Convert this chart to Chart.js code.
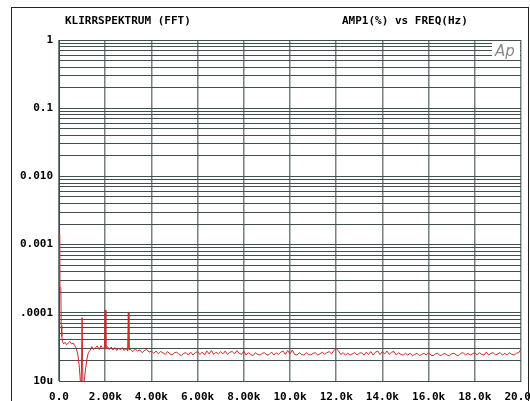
<!DOCTYPE html>
<html>
<head>
<meta charset="utf-8">
<script src="https://cdn.jsdelivr.net/npm/chart.js@4"></script>
<style>
  html, body { margin: 0; padding: 0; background: #fff; }
  #wrap { width: 530px; height: 401px; }
</style>
</head>
<body>
<div id="wrap"><canvas id="fftChart" width="530" height="401"></canvas></div>
<script>
// frequency (Hz) and amplitude (%)
const freqHz = [
    15, 30, 80, 95, 120, 150, 200, 260, 330, 400, 470, 540, 610, 680, 750, 820, 880, 930, 960,
    1000, 1040, 1090, 1150, 1210, 1270, 1340, 1420, 1500, 1580, 1660, 1740, 1820, 1900, 1970,
    2000, 2030, 2100, 2180, 2260, 2340, 2420, 2500, 2580, 2660, 2740, 2820, 2900, 2970,
    3000, 3030,
    3100, 3200, 3300, 3400, 3500, 3600, 3700, 3800, 3900, 4000,
    4100, 4200, 4300, 4400, 4500, 4600, 4700, 4800, 4900, 5000,
    5100, 5200, 5300, 5400, 5500, 5600, 5700, 5800, 5900, 6000,
    6100, 6200, 6300, 6400, 6500, 6600, 6700, 6800, 6900, 7000,
    7100, 7200, 7300, 7400, 7500, 7600, 7700, 7800, 7900, 8000,
    8100, 8200, 8300, 8400, 8500, 8600, 8700, 8800, 8900, 9000,
    9100, 9200, 9300, 9400, 9500, 9600, 9700, 9800, 9900, 10000,
    10100, 10200, 10300, 10400, 10500, 10600, 10700, 10800, 10900, 11000,
    11100, 11200, 11300, 11400, 11500, 11600, 11700, 11800, 11900, 12000,
    12100, 12200, 12300, 12400, 12500, 12600, 12700, 12800, 12900, 13000,
    13100, 13200, 13300, 13400, 13500, 13600, 13700, 13800, 13900, 14000,
    14100, 14200, 14300, 14400, 14500, 14600, 14700, 14800, 14900, 15000,
    15100, 15200, 15300, 15400, 15500, 15600, 15700, 15800, 15900, 16000,
    16100, 16200, 16300, 16400, 16500, 16600, 16700, 16800, 16900, 17000,
    17100, 17200, 17300, 17400, 17500, 17600, 17700, 17800, 17900, 18000,
    18100, 18200, 18300, 18400, 18500, 18600, 18700, 18800, 18900, 19000,
    19100, 19200, 19300, 19400, 19500, 19600, 19700, 19800, 19900, 20000
];
const ampPct = [
    1.4e-3, 2.4e-4, 2.3e-4, 6.5e-5, 4.5e-5, 3.8e-5, 3.5e-5, 3.7e-5, 3.4e-5, 3.6e-5, 3.8e-5, 3.5e-5, 3.6e-5, 3.3e-5, 3.0e-5, 2.4e-5, 1.6e-5, 9.5e-6, 7e-6,
    8.5e-5, 7e-6, 1.0e-5, 1.5e-5, 2.1e-5, 2.6e-5, 2.8e-5, 3.2e-5, 2.9e-5, 3.1e-5, 3.25e-5, 2.9e-5, 3.3e-5, 2.95e-5, 3.15e-5,
    1.1e-4, 2.95e-5, 3.2e-5, 2.9e-5, 3.15e-5, 2.85e-5, 3.1e-5, 2.8e-5, 3.05e-5, 2.85e-5, 3.1e-5, 2.8e-5, 3.0e-5, 2.75e-5,
    1.0e-4, 2.9e-5,
    2.9e-5, 2.7e-5, 2.95e-5, 2.75e-5, 2.85e-5, 2.6e-5, 2.8e-5, 2.9e-5, 2.65e-5, 2.75e-5,
    2.55e-5, 2.75e-5, 2.5e-5, 2.7e-5, 2.6e-5, 2.45e-5, 2.7e-5, 2.5e-5, 2.4e-5, 2.6e-5,
    2.65e-5, 2.45e-5, 2.35e-5, 2.55e-5, 2.6e-5, 2.4e-5, 2.65e-5, 2.4e-5, 2.6e-5, 2.7e-5,
    2.45e-5, 2.65e-5, 2.4e-5, 2.75e-5, 2.5e-5, 2.8e-5, 2.45e-5, 2.65e-5, 2.5e-5, 2.7e-5,
    2.5e-5, 2.75e-5, 2.45e-5, 2.65e-5, 2.7e-5, 2.5e-5, 2.8e-5, 2.55e-5, 2.45e-5, 2.75e-5,
    2.4e-5, 2.6e-5, 2.45e-5, 2.35e-5, 2.6e-5, 2.45e-5, 2.4e-5, 2.55e-5, 2.6e-5, 2.4e-5,
    2.45e-5, 2.65e-5, 2.4e-5, 2.6e-5, 2.45e-5, 2.65e-5, 2.75e-5, 2.45e-5, 2.8e-5, 2.5e-5,
    2.85e-5, 2.45e-5, 2.4e-5, 2.6e-5, 2.45e-5, 2.4e-5, 2.6e-5, 2.45e-5, 2.4e-5, 2.55e-5,
    2.6e-5, 2.4e-5, 2.5e-5, 2.65e-5, 2.45e-5, 2.6e-5, 2.7e-5, 2.5e-5, 2.8e-5, 3.0e-5,
    2.75e-5, 2.45e-5, 2.6e-5, 2.4e-5, 2.55e-5, 2.4e-5, 2.5e-5, 2.6e-5, 2.4e-5, 2.55e-5,
    2.6e-5, 2.4e-5, 2.65e-5, 2.45e-5, 2.7e-5, 2.4e-5, 2.65e-5, 2.75e-5, 2.45e-5, 2.7e-5,
    2.5e-5, 2.75e-5, 2.45e-5, 2.65e-5, 2.7e-5, 2.4e-5, 2.6e-5, 2.45e-5, 2.4e-5, 2.55e-5,
    2.4e-5, 2.55e-5, 2.35e-5, 2.45e-5, 2.55e-5, 2.35e-5, 2.45e-5, 2.55e-5, 2.4e-5, 2.6e-5,
    2.4e-5, 2.35e-5, 2.5e-5, 2.55e-5, 2.35e-5, 2.45e-5, 2.55e-5, 2.4e-5, 2.35e-5, 2.5e-5,
    2.55e-5, 2.4e-5, 2.35e-5, 2.55e-5, 2.6e-5, 2.4e-5, 2.55e-5, 2.4e-5, 2.5e-5, 2.6e-5,
    2.4e-5, 2.6e-5, 2.45e-5, 2.4e-5, 2.65e-5, 2.4e-5, 2.55e-5, 2.6e-5, 2.4e-5, 2.5e-5,
    2.6e-5, 2.4e-5, 2.55e-5, 2.4e-5, 2.6e-5, 2.45e-5, 2.4e-5, 2.55e-5, 2.6e-5, 2.9e-5
];

const xTickValues = [0, 2000, 4000, 6000, 8000, 10000, 12000, 14000, 16000, 18000, 20000];
const xTickLabels = ['0.0', '2.00k', '4.00k', '6.00k', '8.00k', '10.0k', '12.0k', '14.0k', '16.0k', '18.0k', '20.0k'];
const yDecades = [1e-5, 1e-4, 1e-3, 1e-2, 1e-1, 1];
const yDecadeLabels = ['10u', '.0001', '0.001', '0.010', '0.1', '1'];
const yMinorSteps = [1, 2, 3, 4, 5, 6, 7, 8, 9];

const monoFont = '"DejaVu Sans Mono", "Liberation Mono", monospace';

const framePlugin = {
    id: 'frame',
    afterDraw(chart) {
        const ctx = chart.ctx;
        const area = chart.chartArea;
        ctx.save();
        // outer frame
        ctx.strokeStyle = '#222';
        ctx.lineWidth = 1;
        ctx.strokeRect(11.5, 7.5, 517, 420);
        // titles
        ctx.fillStyle = '#000';
        ctx.font = 'bold 11px ' + monoFont;
        ctx.textBaseline = 'middle';
        ctx.textAlign = 'left';
        ctx.fillText('KLIRRSPEKTRUM (FFT)', 65, 21);
        ctx.fillText('AMP1(%) vs FREQ(Hz)', 342, 21);
        // Ap logo box
        ctx.fillStyle = '#fff';
        ctx.fillRect(492, area.top + 1, area.right - 492 - 1, 19);
        ctx.fillStyle = '#8a8a8a';
        ctx.font = 'italic 15px "DejaVu Sans", sans-serif';
        ctx.textBaseline = 'alphabetic';
        ctx.fillText('Ap', 495, 56);
        ctx.restore();
    }
};

const ctx = document.getElementById('fftChart').getContext('2d');
new Chart(ctx, {
    type: 'scatter',
    data: {
        datasets: [{
            label: 'AMP1',
            data: freqHz.map((f, i) => ({ x: f, y: ampPct[i] })),
            showLine: true,
            borderColor: '#cc2a2a',
            borderWidth: 1,
            pointRadius: 0,
            tension: 0
        }]
    },
    options: {
        responsive: false,
        animation: false,
        layout: { padding: { top: 40, right: 9, left: 0, bottom: 0 } },
        plugins: {
            legend: { display: false },
            tooltip: { enabled: false }
        },
        scales: {
            x: {
                type: 'linear',
                min: 0,
                max: 20000,
                afterBuildTicks: axis => {
                    axis.ticks = xTickValues.map(v => ({ value: v }));
                },
                afterFit: s => {
                    s.height = 20;
                    s.paddingLeft = 0;
                    s.paddingRight = 0;
                },
                grid: { color: '#74817f', lineWidth: 1.5, drawTicks: false },
                border: { color: '#3d4b4b', width: 1 },
                ticks: {
                    padding: 10,
                    autoSkip: false,
                    maxRotation: 0,
                    color: '#000',
                    font: { family: monoFont, size: 11, weight: 'bold' },
                    callback: (value, index) => xTickLabels[index]
                }
            },
            y: {
                type: 'logarithmic',
                min: 1e-5,
                max: 1,
                afterBuildTicks: axis => {
                    const ticks = [];
                    yDecades.forEach((d, di) => {
                        yMinorSteps.forEach(m => {
                            if (di === yDecades.length - 1 && m > 1) return;
                            ticks.push({ value: m * d, major: m === 1 });
                        });
                    });
                    axis.ticks = ticks;
                },
                afterFit: s => {
                    s.width = 59;
                    s.paddingTop = 0;
                    s.paddingBottom = 0;
                },
                grid: { color: '#405050', lineWidth: 1, drawTicks: false },
                border: { color: '#3d4b4b', width: 1 },
                ticks: {
                    padding: 6,
                    autoSkip: false,
                    color: '#000',
                    font: { family: monoFont, size: 11, weight: 'bold' },
                    callback: value => {
                        const i = yDecades.findIndex(d => Math.abs(value - d) < d * 1e-6);
                        return i >= 0 ? yDecadeLabels[i] : '';
                    }
                }
            }
        }
    },
    plugins: [framePlugin]
});
</script>
</body>
</html>
